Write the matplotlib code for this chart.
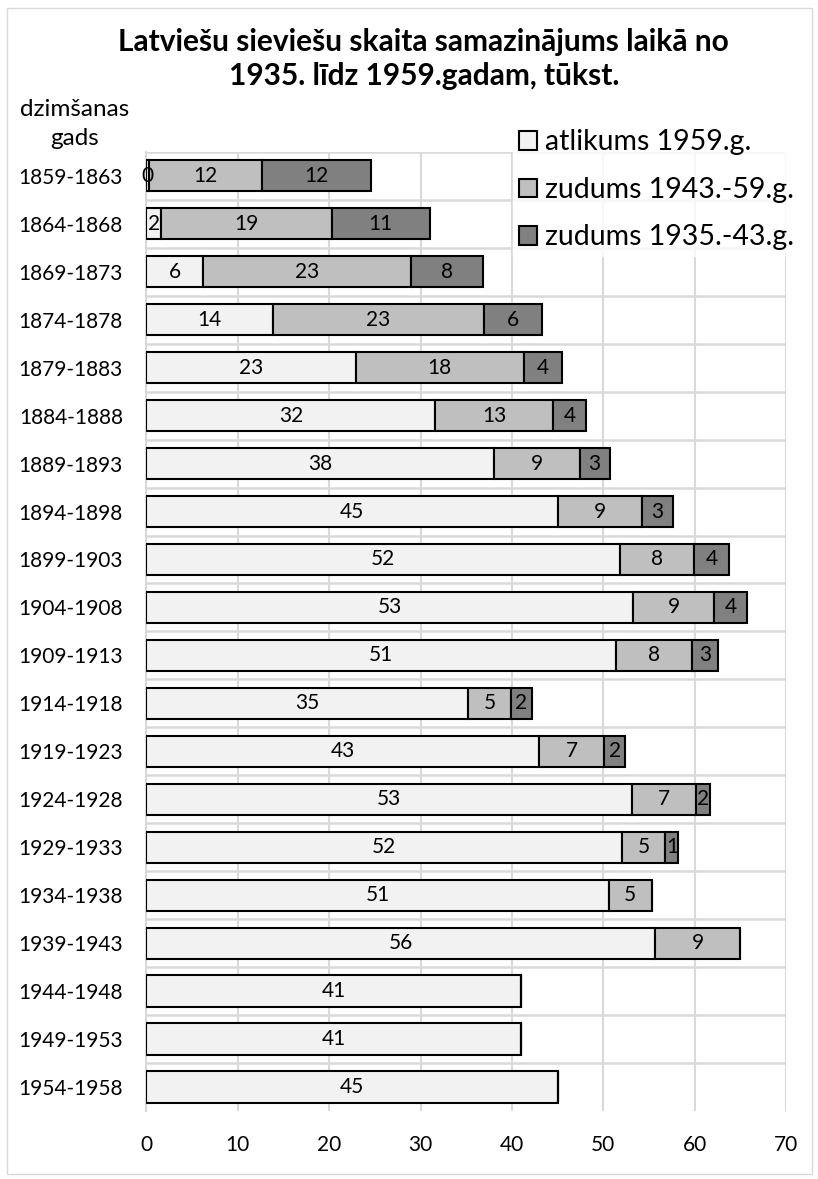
import matplotlib.pyplot as plt
import matplotlib.patches as mpatches
import numpy as np

plt.rcParams['font.family'] = ['Lato', 'DejaVu Sans']

# dzimšanas gads (birth years)
years = ['1859-1863', '1864-1868', '1869-1873', '1874-1878', '1879-1883',
         '1884-1888', '1889-1893', '1894-1898', '1899-1903', '1904-1908',
         '1909-1913', '1914-1918', '1919-1923', '1924-1928', '1929-1933',
         '1934-1938', '1939-1943', '1944-1948', '1949-1953', '1954-1958']

# tūkst.
atlikums = [0.3, 1.6, 6.2, 13.8, 22.9, 31.6, 38.0, 45.0, 51.8, 53.3,
            51.4, 35.2, 43.0, 53.1, 52.0, 50.6, 55.6, 41.0, 41.0, 45.0]
zudums_4359 = [12.3, 18.7, 22.7, 23.1, 18.4, 12.9, 9.4, 9.2, 8.1, 8.8,
               8.3, 4.7, 7.1, 7.0, 4.8, 4.7, 9.4, 0, 0, 0]
zudums_3543 = [12.0, 10.7, 7.9, 6.4, 4.2, 3.6, 3.3, 3.4, 3.9, 3.6,
               2.9, 2.3, 2.3, 1.6, 1.4, 0, 0, 0, 0, 0]

series = [('atlikums 1959.g.', atlikums, '#F2F2F2'),
          ('zudums 1943.-59.g.', zudums_4359, '#BFBFBF'),
          ('zudums 1935.-43.g.', zudums_3543, '#808080')]

fig = plt.figure(figsize=(8.18, 11.79), dpi=100)
ax = fig.add_axes([0.179, 0.0577, 0.782, 0.8135])

y = np.arange(len(years))
left = np.zeros(len(years))
handles = []
for name, vals, col in series:
    vals = np.array(vals, dtype=float)
    bars = ax.barh(y, vals, left=left, height=0.65, color=col,
                   edgecolor='black', linewidth=1.5, label=name, zorder=3)
    labels = [f'{v:.0f}' if v > 0 else '' for v in vals]
    txts = ax.bar_label(bars, labels=labels, label_type='center', fontsize=15,
                        color='black')
    for t in txts:
        t.set_zorder(6)
    left += vals
    handles.append(mpatches.Patch(facecolor=col, edgecolor='black', linewidth=1.5))

ax.set_xlim(0, 70)
ax.set_ylim(len(years) - 0.5, -0.5)
ax.set_xticks(np.arange(0, 71, 10))
ax.set_yticks(y)
ax.set_yticklabels(years)
ax.tick_params(axis='both', length=0, labelsize=15)
ax.tick_params(axis='x', pad=17)
ax.tick_params(axis='y', pad=17)

ax.grid(axis='x', color='#D9D9D9', linewidth=1.5, zorder=0)
for k in range(len(years)):
    ax.axhline(k - 0.5, color='#D9D9D9', linewidth=1.8, zorder=0)
for s in ['top', 'right', 'bottom']:
    ax.spines[s].set_visible(False)
ax.spines['left'].set_color('#D9D9D9')
ax.spines['left'].set_linewidth(1.5)

fig.text(0.518, 0.950, 'Latviešu sieviešu skaita samazinājums laikā no\n1935. līdz 1959.gadam, tūkst.',
         ha='center', va='center', fontsize=21.5, fontweight='bold', linespacing=1.25)
fig.text(0.0917, 0.895, 'dzimšanas\ngads', ha='center', va='center',
         fontsize=17.5, linespacing=1.5)

leg = fig.legend(handles, [s[0] for s in series], loc='upper left',
                 bbox_to_anchor=(0.627, 0.895), borderaxespad=0, fontsize=20.5,
                 frameon=True, handlelength=0.63, handleheight=0.63,
                 handletextpad=0.3, labelspacing=0.75, borderpad=0.2,
                 fancybox=False)
leg.get_frame().set_facecolor('white')
leg.get_frame().set_edgecolor('white')
leg.set_zorder(10)

fig.patches.append(mpatches.Rectangle((0.008, 0.004), 0.985, 0.989,
                                      transform=fig.transFigure, fill=False,
                                      edgecolor='#D9D9D9', linewidth=1))

fig.savefig('out.png', dpi=100)
